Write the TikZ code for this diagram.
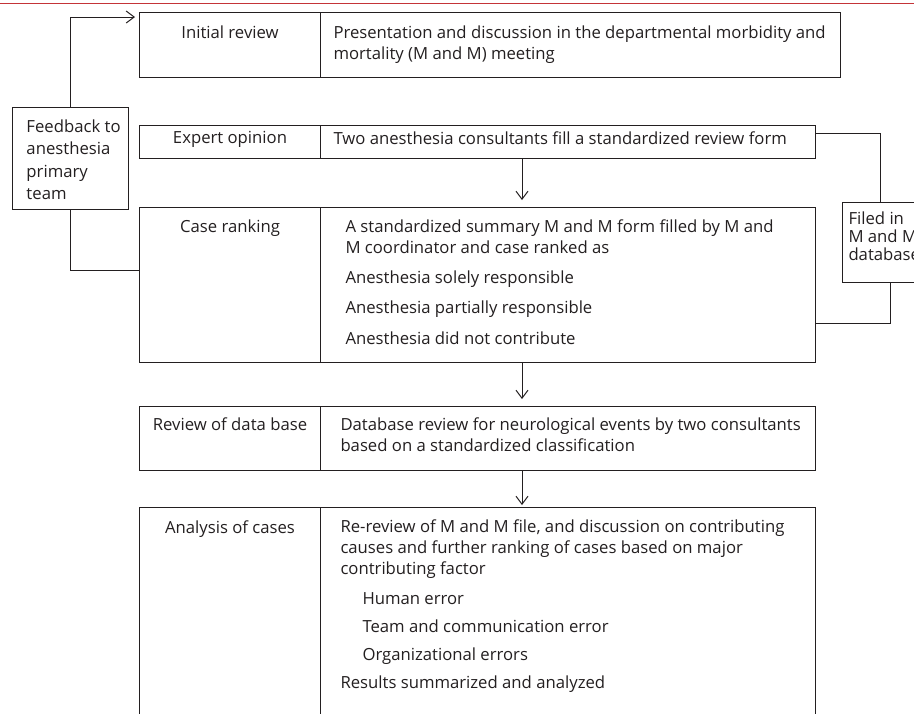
\documentclass[tikz,border=0pt]{standalone}
\usepackage{fontspec}
\setmainfont{Open Sans}
\usetikzlibrary{arrows.meta, calc, positioning}
\definecolor{ink}{RGB}{35,31,32}
\definecolor{rulered}{RGB}{196,52,56}

\begin{document}
\begin{tikzpicture}[x=1pt, y=-1pt, line width=1pt, draw=ink, text=ink,
    >={Straight Barb[length=8pt, width=12pt]},
    cell/.style={draw, anchor=north west, inner sep=0pt, minimum width=#1},
    lbl/.style={anchor=north, inner sep=0pt, font=\fontsize{16.7}{21}\selectfont},
    txt/.style={anchor=north west, inner sep=0pt, align=left, font=\fontsize{16.7}{21}\selectfont}]
    \useasboundingbox (0,0) rectangle (914,713);
    \draw[rulered, line width=0.8pt] (0,3) -- (914,3);

    % rows
    \node[cell=181pt, minimum height=65pt] (initL) at (139, 12) {};
    \node[cell=520pt, minimum height=65pt] (initR) at (320, 12) {};
    \node[cell=181pt, minimum height=33pt] (expL) at (139, 125) {};
    \node[cell=495pt, minimum height=33pt] (expR) at (320, 125) {};
    \node[cell=181pt, minimum height=155pt] (caseL) at (139, 207) {};
    \node[cell=495pt, minimum height=155pt] (caseR) at (320, 207) {};
    \node[cell=181pt, minimum height=64pt] (dbL) at (139, 406) {};
    \node[cell=495pt, minimum height=64pt] (dbR) at (320, 406) {};
    \node[cell=181pt, minimum height=220pt] (anaL) at (139, 507) {};
    \node[cell=495pt, minimum height=220pt] (anaR) at (320, 507) {};
    \node[cell=116pt, minimum height=102pt] (fb) at (12, 107) {};
    \node[cell=76pt, minimum height=80pt] (filed) at (842, 202) {};

    % labels
    \node[lbl, below=13pt of initL.north] (initLt) {Initial review};
    \node[lbl, below=6pt of expL.north] (expLt) {Expert opinion};
    \node[lbl, below=12pt of caseL.north] (caseLt) {Case ranking};
    \node[lbl, below=11pt of dbL.north] (dbLt) {Review of data base};
    \node[lbl, below=13pt of anaL.north] (anaLt) {Analysis of cases};

    \node[txt, below right=13pt and 13pt of initR.north west] (initRt)
        {Presentation and discussion in the departmental morbidity and\\
         mortality (M and M) meeting};
    \node[txt, below right=6pt and 13pt of expR.north west] (expRt)
        {Two anesthesia consultants fill a standardized review form};
    \node[txt, below right=12pt and 25pt of caseR.north west] (caseRt)
        {A standardized summary M and M form filled by M and\\
         M coordinator and case ranked as\\[9pt]
         Anesthesia solely responsible\\[9pt]
         Anesthesia partially responsible\\[10pt]
         Anesthesia did not contribute};
    \node[txt, below right=11pt and 20pt of dbR.north west] (dbRt)
        {Database review for neurological events by two consultants\\
         based on a standardized classification};
    \node[txt, below right=12pt and 20pt of anaR.north west] (anaRt)
        {Re-review of M and M file, and discussion on contributing\\
         causes and further ranking of cases based on major\\
         contributing factor\\[9pt]
         \hspace*{22pt}Human error\\[7pt]
         \hspace*{22pt}Team and communication error\\[7pt]
         \hspace*{22pt}Organizational errors\\[7pt]
         Results summarized and analyzed};
    \node[txt, below right=12pt and 14pt of fb.north west, font=\fontsize{16.7}{22.5}\selectfont] (fbt)
        {Feedback to\\ anesthesia\\ primary\\ team};
    \node[txt, below right=9pt and 6pt of filed.north west, font=\fontsize{16.7}{18}\selectfont] (filedt)
        {Filed in\\ M and M\\ database};

    % connectors
    \coordinate (ax) at (522, 0);
    \draw[->, shorten >=7pt] (expR.south -| ax) -- (caseR.north -| ax);
    \draw[->, shorten >=7pt] (caseR.south -| ax) -- (dbR.north -| ax);
    \draw[->, shorten >=2pt] (dbR.south -| ax) -- (anaR.north -| ax);
    \draw[->, shorten >=4pt] (fb.north) |- ([yshift=-5pt]initL.north west);
    \draw (fb.south) |- ([yshift=14.5pt]caseL.west);
    \draw ([yshift=8.5pt]expR.east) -| (filed.north);
    \draw ([xshift=10pt]filed.south) |- ([yshift=-38.5pt]caseR.east);
\end{tikzpicture}
\end{document}
